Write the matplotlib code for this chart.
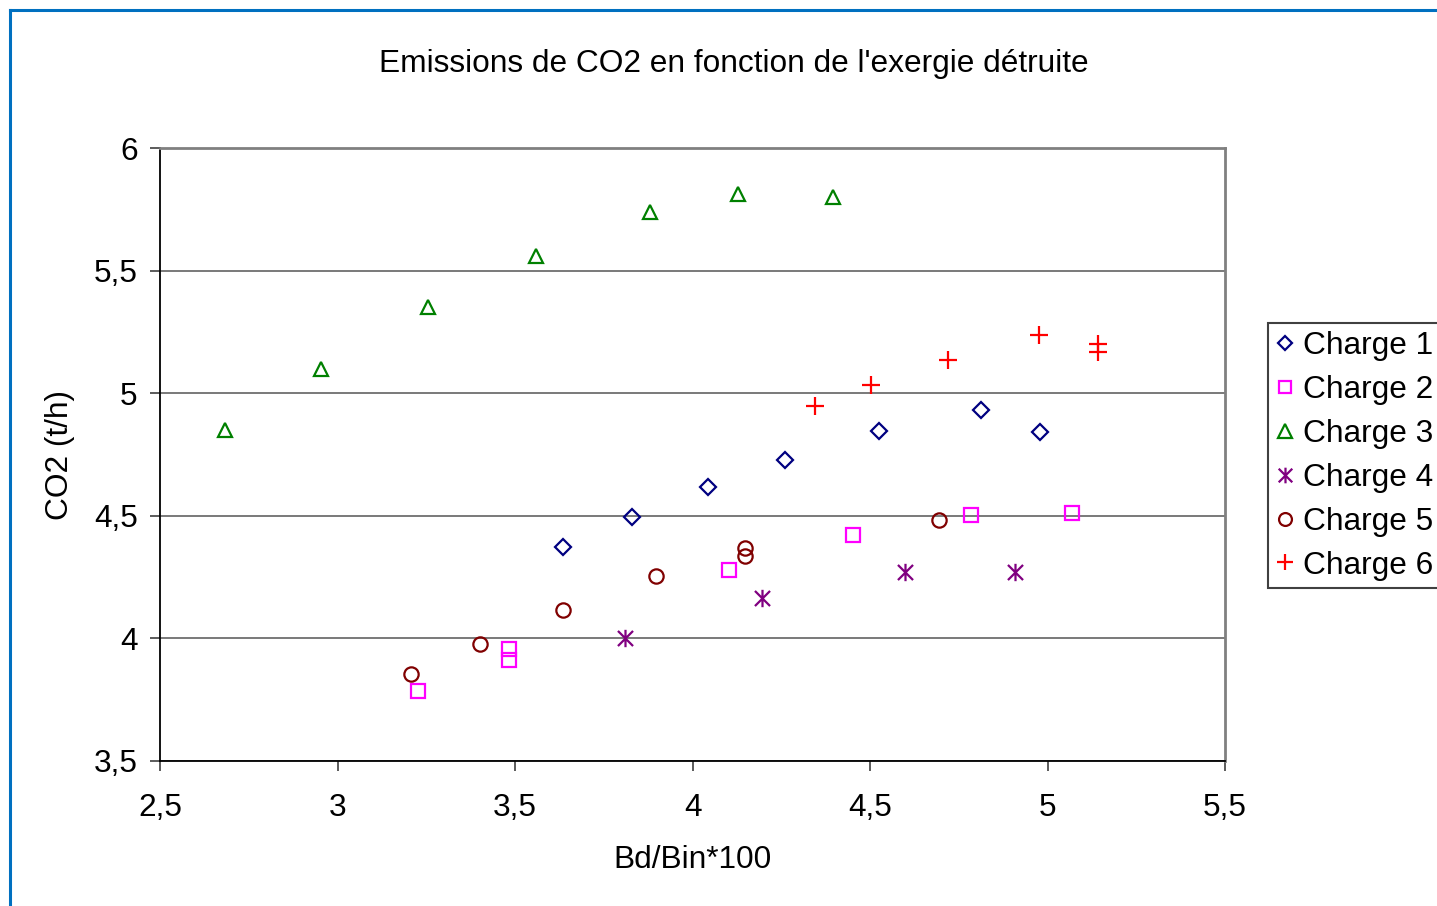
import matplotlib
matplotlib.use("Agg")
import matplotlib.pyplot as plt
from matplotlib.path import Path
from matplotlib.lines import Line2D
from matplotlib.ticker import FuncFormatter

plt.rcParams['font.family'] = ['Liberation Sans', 'DejaVu Sans']

# ---- data ----
c1_x = [3.635, 3.830, 4.044, 4.261, 4.525, 4.813, 4.979]
c1_y = [4.373, 4.495, 4.617, 4.728, 4.846, 4.931, 4.842]

c2_x = [3.227, 3.483, 3.483, 4.103, 4.452, 4.785, 5.069]
c2_y = [3.785, 3.955, 3.912, 4.279, 4.422, 4.503, 4.511]

c3_x = [2.683, 2.954, 3.255, 3.559, 3.880, 4.128, 4.396]
c3_y = [4.850, 5.099, 5.352, 5.560, 5.739, 5.812, 5.800]

c4_x = [3.810, 4.196, 4.599, 4.908]
c4_y = [4.003, 4.163, 4.270, 4.270]

c5_x = [3.207, 3.401, 3.635, 3.898, 4.148, 4.148, 4.694]
c5_y = [3.854, 3.977, 4.116, 4.254, 4.370, 4.337, 4.483]

c6_x = [4.345, 4.503, 4.720, 4.976, 5.142, 5.142]
c6_y = [4.948, 5.033, 5.135, 5.236, 5.201, 5.167]

series_names = ["Charge 1", "Charge 2", "Charge 3", "Charge 4", "Charge 5", "Charge 6"]
x_ticks = [2.5, 3, 3.5, 4, 4.5, 5, 5.5]
y_ticks = [3.5, 4, 4.5, 5, 5.5, 6]
title = "Emissions de CO2 en fonction de l'exergie détruite"
x_label = "Bd/Bin*100"
y_label = "CO2 (t/h)"

# ---- figure ----
W, H = 1437, 906
FS = 22.8
fig = plt.figure(figsize=(W / 100, H / 100), dpi=100)
fig.patch.set_facecolor('white')

L, R, T, B = 160, 1225, 148, 761
ax = fig.add_axes([L / W, 1 - B / H, (R - L) / W, (B - T) / H])

asterisk = Path([(-1, -1), (1, 1), (-1, 1), (1, -1), (0, -1.15), (0, 1.15)],
                [Path.MOVETO, Path.LINETO, Path.MOVETO, Path.LINETO, Path.MOVETO, Path.LINETO])

styles = [
    dict(marker='D', color='#000080', ms=8.0),
    dict(marker='s', color='#FF00FF', ms=10.0),
    dict(marker='^', color='#008000', ms=10.5),
    dict(marker=asterisk, color='#800080', ms=12.5),
    dict(marker='o', color='#800000', ms=10.3),
    dict(marker='+', color='#FF0000', ms=13),
]
data = [(c1_x, c1_y), (c2_x, c2_y), (c3_x, c3_y), (c4_x, c4_y), (c5_x, c5_y), (c6_x, c6_y)]

for (xs, ys), st, name in zip(data, styles, series_names):
    ax.plot(xs, ys, linestyle='none', marker=st['marker'], markersize=st['ms'],
            markerfacecolor='none', markeredgecolor=st['color'], markeredgewidth=1.6,
            label=name, zorder=3)

ax.set_xlim(2.5, 5.5)
ax.set_ylim(3.5, 6)
ax.set_xticks(x_ticks)
ax.set_yticks(y_ticks)
fmt = FuncFormatter(lambda v, p: ('%g' % v).replace('.', ','))
ax.xaxis.set_major_formatter(fmt)
ax.yaxis.set_major_formatter(fmt)
ax.tick_params(axis='both', direction='out', length=7, width=1.2, color='#404040',
               labelsize=FS, pad=9)
ax.tick_params(axis='x', pad=16)

ax.grid(axis='y', color='#6e6e6e', linewidth=1.3, zorder=1)
ax.set_axisbelow(True)
for s in ['left', 'bottom']:
    ax.spines[s].set_color('black')
    ax.spines[s].set_linewidth(1.3)
for s in ['top', 'right']:
    ax.spines[s].set_color('#808080')
    ax.spines[s].set_linewidth(2.0)

fig.text(734 / W, 1 - 64 / H, title, ha='center', va='center', fontsize=FS)
fig.text(692 / W, 1 - 860 / H, x_label, ha='center', va='center', fontsize=FS)
fig.text(60 / W, 1 - 455 / H, y_label, ha='center', va='center', fontsize=FS, rotation=90)

leg = ax.legend(loc='upper left', bbox_to_anchor=(1268 / W, 1 - 323 / H),
                bbox_transform=fig.transFigure, borderaxespad=0, fontsize=FS,
                frameon=True, fancybox=False, edgecolor='#404040', framealpha=1,
                handlelength=0.6, handletextpad=0.25, borderpad=0.25, labelspacing=0.44,
                markerscale=0.9)
leg.get_frame().set_linewidth(1.5)

# outer blue frame (left and top edges visible)
fig.add_artist(Line2D([9.5 / W, 9.5 / W], [0, 1 - 9.5 / H], transform=fig.transFigure,
                      color='#0070C0', linewidth=2.2))
fig.add_artist(Line2D([9.5 / W, 1], [1 - 9.5 / H, 1 - 9.5 / H], transform=fig.transFigure,
                      color='#0070C0', linewidth=2.2))

fig.savefig('out.png', dpi=100)
